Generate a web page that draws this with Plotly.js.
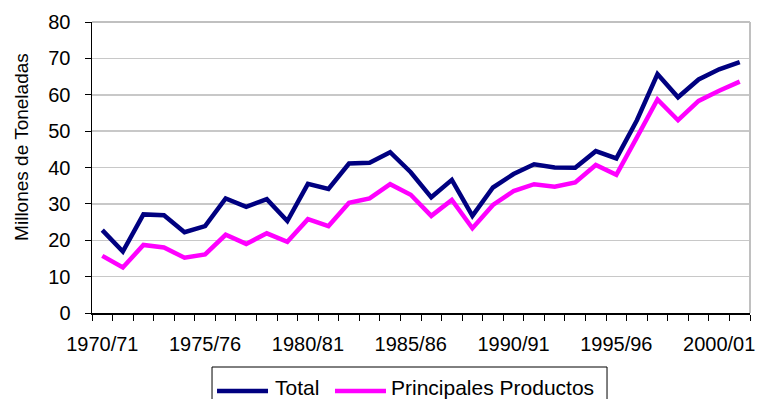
<!DOCTYPE html>
<html>
<head>
<meta charset="utf-8">
<script src="https://cdn.plot.ly/plotly-3.0.1.min.js"></script>
<style>
  html, body { margin: 0; padding: 0; background: #fff; }
  #chart { width: 759px; height: 399px; }
</style>
</head>
<body>
<div id="chart"></div>
<script>
// Campaigns (marketing years)
const campaigns = [
  '1970/71', '1971/72', '1972/73', '1973/74', '1974/75', '1975/76', '1976/77', '1977/78',
  '1978/79', '1979/80', '1980/81', '1981/82', '1982/83', '1983/84', '1984/85', '1985/86',
  '1986/87', '1987/88', '1988/89', '1989/90', '1990/91', '1991/92', '1992/93', '1993/94',
  '1994/95', '1995/96', '1996/97', '1997/98', '1998/99', '1999/00', '2000/01', '2001/02'
];

// Millions of tonnes
const total = [
  22.8, 16.9, 27.1, 26.9, 22.2, 23.9, 31.5, 29.2,
  31.3, 25.3, 35.5, 34.1, 41.1, 41.3, 44.2, 38.7,
  31.8, 36.6, 26.7, 34.5, 38.2, 40.9, 40.0, 39.9,
  44.5, 42.5, 53.0, 65.7, 59.3, 64.2, 67.0, 69.0
];
const principales = [
  15.7, 12.5, 18.7, 18.0, 15.2, 16.1, 21.5, 19.0,
  21.9, 19.6, 25.8, 23.9, 30.3, 31.5, 35.4, 32.5,
  26.7, 31.1, 23.3, 29.7, 33.5, 35.4, 34.7, 35.9,
  40.7, 38.0, 48.3, 58.7, 53.0, 58.3, 61.1, 63.6
];

// Labelled campaigns on the x axis
const tickLabels = ['1970/71', '1975/76', '1980/81', '1985/86', '1990/91', '1995/96', '2000/01'];

// Series names and colours
const seriesNames = ['Total', 'Principales Productos'];
const seriesColors = ['#000080', '#ff00ff'];

const xIdx = campaigns.map((_, i) => i);
const tickPos = tickLabels.map(l => campaigns.indexOf(l));

const FONT = 'Liberation Sans, Arial, sans-serif';

const traces = [total, principales].map((vals, k) => ({
  x: xIdx, y: vals, text: campaigns, name: seriesNames[k],
  type: 'scatter', mode: 'lines',
  line: { color: seriesColors[k], width: 4.5 },
  hovertemplate: '%{text}: %{y}<extra>' + seriesNames[k] + '</extra>'
}));

// Boxed legend under the plot, with long line keys
const legendBox = { x0: 0.1824, x1: 0.7827, y0: -0.32, y1: -0.1856 };
const keyY = -0.268;
const textY = -0.2577;
const keys = [
  { x0: 0.190, x1: 0.2675, tx: 0.2766 },
  { x0: 0.3693, x1: 0.4468, tx: 0.4529 }
];

const shapes = [
  // grey frame on top and right
  { type: 'line', xref: 'paper', yref: 'paper', x0: 0, x1: 1, y0: 1, y1: 1, line: { color: '#c0c0c0', width: 2 } },
  { type: 'line', xref: 'paper', yref: 'paper', x0: 1, x1: 1, y0: 0, y1: 1, line: { color: '#c0c0c0', width: 2 } },
  // legend box
  { type: 'rect', xref: 'paper', yref: 'paper', x0: legendBox.x0, x1: legendBox.x1, y0: legendBox.y0, y1: legendBox.y1,
    line: { color: '#000', width: 1 }, fillcolor: 'rgba(0,0,0,0)' }
];
const annotations = [
  {
    text: 'Millones de Toneladas', xref: 'paper', yref: 'paper',
    x: -0.1074, y: 0.572, xanchor: 'center', yanchor: 'middle',
    textangle: -90, showarrow: false,
    font: { family: FONT, size: 19, color: '#000' }
  }
];
keys.forEach((k, i) => {
  shapes.push({ type: 'line', xref: 'paper', yref: 'paper', x0: k.x0, x1: k.x1, y0: keyY, y1: keyY,
    line: { color: seriesColors[i], width: 4.5 } });
  annotations.push({ text: seriesNames[i], xref: 'paper', yref: 'paper', x: k.tx, y: textY,
    xanchor: 'left', yanchor: 'middle', showarrow: false, borderpad: 0,
    font: { family: FONT, size: 21, color: '#000' } });
});

const layout = {
  width: 759, height: 399,
  margin: { l: 92, r: 9, t: 22, b: 86, autoexpand: false },
  paper_bgcolor: '#ffffff', plot_bgcolor: '#ffffff',
  font: { family: FONT, color: '#000', size: 20 },
  showlegend: false,
  xaxis: {
    type: 'linear', range: [-0.5, campaigns.length - 0.5],
    tickvals: tickPos, ticktext: tickLabels,
    ticks: '', showgrid: false, zeroline: false,
    showline: true, linecolor: '#000', linewidth: 1.5,
    tickfont: { family: FONT, size: 20, color: '#000' },
    ticklabelstandoff: 12,
    minor: { tick0: 0.5, dtick: 1, ticks: 'outside', ticklen: 6, tickcolor: '#000', tickwidth: 1, showgrid: false },
    fixedrange: true
  },
  yaxis: {
    range: [0, 80], dtick: 10, tick0: 0,
    ticks: 'outside', ticklen: 6, tickcolor: '#000', tickwidth: 1,
    showgrid: true, gridcolor: '#c8c8c8', gridwidth: 1.5,
    zeroline: false, showline: true, linecolor: '#000', linewidth: 1.5,
    tickfont: { family: FONT, size: 20, color: '#000' },
    ticklabelstandoff: 10,
    fixedrange: true
  },
  shapes: shapes,
  annotations: annotations
};

Plotly.newPlot('chart', traces, layout, { displayModeBar: false, staticPlot: true });
</script>
</body>
</html>
